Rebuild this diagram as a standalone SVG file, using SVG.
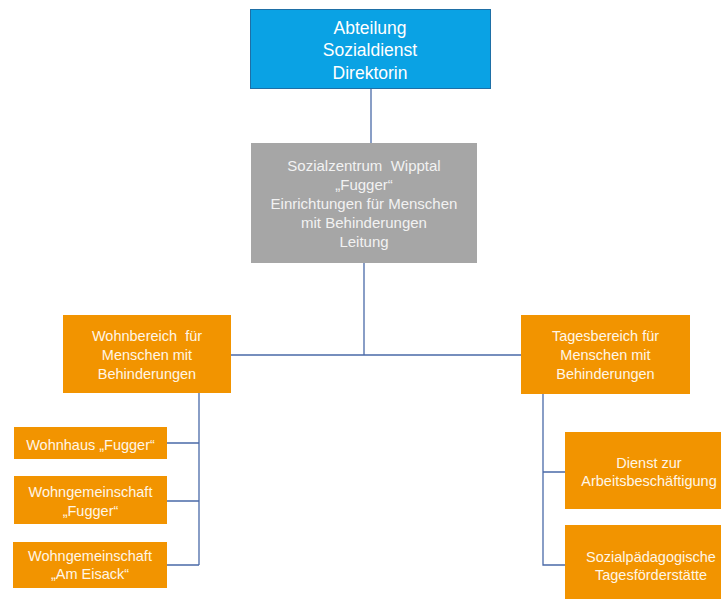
<svg xmlns="http://www.w3.org/2000/svg" width="721" height="599" viewBox="0 0 721 599">
<style>
text{font-family:"Liberation Sans",Arial,sans-serif;text-anchor:middle}
.blue{fill:#0aa2e4;stroke:#1e6fa6;stroke-width:1}
.gray{fill:#a6a6a6}
.orange{fill:#f29400}
.tb{fill:#ffffff;font-size:17.5px}
.tg{fill:#f2f2f2;font-size:15px}
.to{fill:#fff6e6;font-size:14.5px}
.conn{fill:none;stroke:#4a6aa8;stroke-width:1.3}
.pre{white-space:pre}
</style>
<rect width="721" height="599" fill="#ffffff"/>
<g id="connectors">
<path class="conn" d="M371 89V143"/>
<path class="conn" d="M364 263V355M231 355H521"/>
<path class="conn" d="M199 393V565M167 443H199M167 501H199M167 565H199"/>
<path class="conn" d="M543 394V565H565M543 472H565"/>
</g>
<g id="n-abteilung">
<rect class="blue" x="250.5" y="9.5" width="240" height="79"/>
<text class="tb" x="370" y="33.5">Abteilung</text>
<text class="tb" x="370" y="56">Sozialdienst</text>
<text class="tb" x="370" y="78.5">Direktorin</text>
</g>
<g id="n-sozialzentrum">
<rect class="gray" x="251" y="143" width="226" height="120"/>
<text class="tg pre" x="364" y="171" xml:space="preserve">Sozialzentrum  Wipptal</text>
<text class="tg" x="364" y="190">„Fugger“</text>
<text class="tg" x="364" y="209">Einrichtungen für Menschen</text>
<text class="tg" x="364" y="228">mit Behinderungen</text>
<text class="tg" x="364" y="247">Leitung</text>
</g>
<g id="n-wohnbereich">
<rect class="orange" x="63" y="315" width="168" height="78"/>
<text class="to pre" x="147" y="341" xml:space="preserve">Wohnbereich  für</text>
<text class="to" x="147" y="360">Menschen mit</text>
<text class="to" x="147" y="379">Behinderungen</text>
</g>
<g id="n-tagesbereich">
<rect class="orange" x="521" y="315" width="169" height="79"/>
<text class="to" x="605.5" y="341">Tagesbereich für</text>
<text class="to" x="605.5" y="360">Menschen mit</text>
<text class="to" x="605.5" y="379">Behinderungen</text>
</g>
<g id="n-wohnhaus">
<rect class="orange" x="14" y="427" width="153" height="32"/>
<text class="to" x="90.5" y="450">Wohnhaus „Fugger“</text>
</g>
<g id="n-wg-fugger">
<rect class="orange" x="14" y="476" width="153" height="48"/>
<text class="to" x="90.5" y="497">Wohngemeinschaft</text>
<text class="to" x="90.5" y="516">„Fugger“</text>
</g>
<g id="n-wg-eisack">
<rect class="orange" x="13" y="542" width="154" height="46"/>
<text class="to" x="90" y="561">Wohngemeinschaft</text>
<text class="to" x="90" y="579">„Am Eisack“</text>
</g>
<g id="n-dienst">
<rect class="orange" x="565" y="432" width="168" height="77"/>
<text class="to" x="649" y="468">Dienst zur</text>
<text class="to" x="649" y="486">Arbeitsbeschäftigung</text>
</g>
<g id="n-sozialpaed">
<rect class="orange" x="565" y="525" width="168" height="80"/>
<text class="to" x="651" y="562">Sozialpädagogische</text>
<text class="to" x="651" y="580">Tagesförderstätte</text>
</g>
</svg>
